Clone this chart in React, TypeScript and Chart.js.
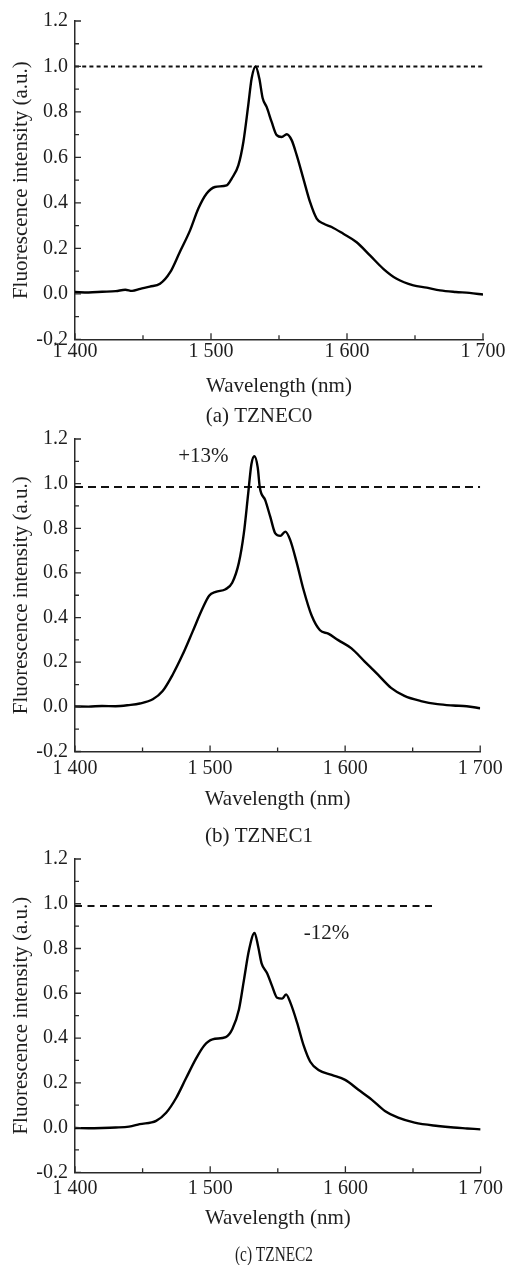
import React, { useEffect, useRef } from "react";
import { Chart, registerables } from "chart.js";

Chart.register(...registerables);

// ---------- data ----------
const X_TICKS = [1400, 1500, 1600, 1700];
const X_MINOR = [1450, 1550, 1650];
const Y_TICKS = [-0.2, 0, 0.2, 0.4, 0.6, 0.8, 1.0, 1.2];
const Y_MINOR = [-0.1, 0.1, 0.3, 0.5, 0.7, 0.9, 1.1];

const X_TITLE = "Wavelength (nm)";
const Y_TITLE = "Fluorescence intensity (a.u.)";

const CAPTIONS = ["(a) TZNEC0", "(b) TZNEC1", "(c) TZNEC2"];

const WL_A = [1400, 1410, 1420, 1430, 1437, 1442, 1448, 1455, 1462.5, 1470, 1477, 1484.6, 1490.7, 1496.8, 1502.9, 1511.5, 1515.2, 1520.1, 1523.8, 1527.4, 1529.9, 1532.8, 1535.5, 1538, 1540.9, 1544.6, 1548.3, 1552, 1555.7, 1559.3, 1563, 1567.9, 1572.8, 1577.7, 1582.6, 1588.7, 1597.3, 1607.1, 1616.9, 1626.7, 1636.5, 1648.8, 1658.6, 1668.4, 1680, 1690, 1700];
const INT_A = [0.008, 0.006, 0.009, 0.012, 0.018, 0.013, 0.022, 0.032, 0.044, 0.095, 0.183, 0.279, 0.375, 0.441, 0.47, 0.477, 0.507, 0.565, 0.668, 0.83, 0.948, 1.0, 0.948, 0.86, 0.822, 0.756, 0.698, 0.69, 0.702, 0.676, 0.61, 0.507, 0.404, 0.331, 0.309, 0.294, 0.264, 0.227, 0.169, 0.11, 0.066, 0.037, 0.027, 0.015, 0.008, 0.004, -0.003];

const WL_B = [1400, 1410, 1420, 1430, 1440, 1448, 1457.6, 1464.9, 1472.3, 1479.6, 1487, 1494.3, 1499.3, 1504.2, 1511.5, 1516.4, 1521.3, 1525, 1528.2, 1530.6, 1532.8, 1535.3, 1536.8, 1540.9, 1544.6, 1548.3, 1552, 1555.7, 1559.3, 1564.2, 1569.1, 1575.2, 1581.4, 1587.5, 1594.9, 1604.7, 1614.5, 1624.3, 1634, 1643.9, 1656.1, 1668.4, 1680, 1690, 1700];
const INT_B = [0.002, 0.001, 0.004, 0.003, 0.008, 0.015, 0.034, 0.071, 0.144, 0.233, 0.336, 0.439, 0.498, 0.515, 0.527, 0.556, 0.645, 0.777, 0.954, 1.087, 1.123, 1.072, 0.984, 0.925, 0.851, 0.777, 0.766, 0.785, 0.748, 0.645, 0.527, 0.409, 0.343, 0.328, 0.299, 0.262, 0.203, 0.144, 0.085, 0.049, 0.026, 0.012, 0.006, 0.003, -0.006];

const WL_C = [1400, 1410, 1420, 1430, 1440, 1447.8, 1460, 1467.4, 1474.8, 1482.1, 1489.5, 1495.6, 1501.7, 1511.5, 1516.4, 1521.3, 1525, 1528.7, 1532.8, 1535.5, 1538, 1542.1, 1545.8, 1549.5, 1553.2, 1556.1, 1559.3, 1564.2, 1569.1, 1574, 1580.1, 1589.9, 1599.8, 1609.6, 1619.4, 1629.2, 1639, 1651.2, 1668.4, 1680, 1690, 1700];
const INT_C = [-0.002, -0.003, -0.002, 0.0, 0.004, 0.015, 0.03, 0.066, 0.132, 0.22, 0.308, 0.367, 0.394, 0.404, 0.44, 0.529, 0.661, 0.793, 0.87, 0.808, 0.734, 0.69, 0.632, 0.58, 0.576, 0.595, 0.558, 0.47, 0.367, 0.294, 0.257, 0.235, 0.213, 0.169, 0.125, 0.074, 0.044, 0.022, 0.007, 0.0, -0.004, -0.008];

// reference (dashed) lines
const REF_Y = [1.0, 0.985, 0.99];
const REF_X_START = [1400, 1400, 1400];
const REF_X_END = [1700, 1700, 1666];

// annotations
const NOTE_TEXT = ["", "+13%", "-12%"];
const NOTE_X = [0, 1495, 1586];
const NOTE_Y = [0, 1.12, 0.866];

// ---------- layout / style ----------
const FONT_FAMILY = "'Liberation Serif', 'Times New Roman', serif";
const TEXT_COLOR = "#1e1e1e";
const AXIS_COLOR = "#2a2a2a";

const PANELS = [
  { wl: WL_A, val: INT_A, top: 0, height: 420, canvasH: 440, areaTop: 21, areaBottom: 339.3, xPad: 0.8, xTitlePad: 21.4, dash: [4, 3.2], dashW: 2, capY: 416, capX: 259, capW: 0 },
  { wl: WL_B, val: INT_B, top: 420, height: 420, canvasH: 440, areaTop: 14.3, areaBottom: 331.5, xPad: 5.3, xTitlePad: 28.4, dash: [8, 5], dashW: 1.9, capY: 416, capX: 259, capW: 0 },
  { wl: WL_C, val: INT_C, top: 840, height: 425, canvasH: 425, areaTop: 14.3, areaBottom: 332.3, xPad: 4.9, xTitlePad: 33.9, dash: [7, 5.5], dashW: 1.9, capY: 415, capX: 274, capW: 78 },
];

const fmtX = (v: number) => String(v).replace(/^(\d)(\d{3})$/, "$1 $2");
const fmtY = (v: number) => Number(v).toFixed(1);

function makeDecor(idx: number) {
  return {
    id: "decor" + idx,
    afterDraw(chart: any) {
      const ctx = chart.ctx;
      const xs = chart.scales.x;
      const ys = chart.scales.y;
      const { left, bottom } = chart.chartArea;
      ctx.save();
      ctx.strokeStyle = AXIS_COLOR;
      ctx.lineWidth = 1.3;
      ctx.beginPath();
      Y_TICKS.forEach((v) => {
        const y = ys.getPixelForValue(v);
        ctx.moveTo(left, y);
        ctx.lineTo(left + 6, y);
      });
      Y_MINOR.forEach((v) => {
        const y = ys.getPixelForValue(v);
        ctx.moveTo(left, y);
        ctx.lineTo(left + 4, y);
      });
      X_TICKS.forEach((v) => {
        const x = xs.getPixelForValue(v);
        ctx.moveTo(x, bottom);
        ctx.lineTo(x, bottom - 6);
      });
      X_MINOR.forEach((v) => {
        const x = xs.getPixelForValue(v);
        ctx.moveTo(x, bottom);
        ctx.lineTo(x, bottom - 4);
      });
      ctx.stroke();

      ctx.fillStyle = TEXT_COLOR;
      ctx.textAlign = "center";
      ctx.textBaseline = "middle";
      if (NOTE_TEXT[idx]) {
        ctx.font = `21px ${FONT_FAMILY}`;
        ctx.fillText(NOTE_TEXT[idx], xs.getPixelForValue(NOTE_X[idx]), ys.getPixelForValue(NOTE_Y[idx]));
      }
      const p = PANELS[idx];
      ctx.font = `21px ${FONT_FAMILY}`;
      if (p.capW) ctx.fillText(CAPTIONS[idx], p.capX, p.capY, p.capW);
      else ctx.fillText(CAPTIONS[idx], p.capX, p.capY);
      ctx.restore();
    },
  };
}

function Panel({ idx }: { idx: number }) {
  const ref = useRef<HTMLCanvasElement | null>(null);
  const p = PANELS[idx];
  useEffect(() => {
    if (!ref.current) return;
    const tickFont = { family: FONT_FAMILY, size: 20, lineHeight: 1.2 };
    const titleFont = { family: FONT_FAMILY, size: 21, lineHeight: 1.2 };
    const chart = new Chart(ref.current, {
      type: "line",
      data: {
        datasets: [
          {
            data: p.wl.map((x, i) => ({ x, y: p.val[i] })),
            borderColor: "#000",
            borderWidth: 2.4,
            pointRadius: 0,
            cubicInterpolationMode: "monotone",
            fill: false,
          },
          {
            data: [
              { x: REF_X_START[idx], y: REF_Y[idx] },
              { x: REF_X_END[idx], y: REF_Y[idx] },
            ],
            borderColor: "#111",
            borderWidth: p.dashW,
            borderDash: p.dash,
            pointRadius: 0,
            fill: false,
          },
        ],
      },
      options: {
        animation: false,
        responsive: false,
        events: [],
        layout: { padding: { top: p.areaTop, right: 25, left: 0, bottom: p.canvasH - p.height } },
        plugins: {
          legend: { display: false },
          tooltip: { enabled: false },
          title: { display: false },
        },
        scales: {
          x: {
            type: "linear",
            min: 1400,
            max: 1700,
            afterBuildTicks: (s: any) => {
              s.ticks = X_TICKS.map((v) => ({ value: v }));
            },
            ticks: {
              callback: (v: any) => fmtX(v),
              font: tickFont,
              color: TEXT_COLOR,
              padding: p.xPad,
              maxRotation: 0,
              autoSkip: false,
            },
            grid: { display: false, drawTicks: false },
            border: { display: true, color: AXIS_COLOR, width: 1.5 },
            title: {
              display: true,
              text: X_TITLE,
              font: titleFont,
              color: TEXT_COLOR,
              padding: { top: 0, bottom: p.xTitlePad },
            },
            afterFit: (s: any) => {
              s.height = p.height - p.areaBottom;
            },
          },
          y: {
            type: "linear",
            min: -0.2,
            max: 1.2,
            afterBuildTicks: (s: any) => {
              s.ticks = Y_TICKS.map((v) => ({ value: v }));
            },
            ticks: {
              callback: (v: any) => fmtY(v),
              font: tickFont,
              color: TEXT_COLOR,
              padding: 7,
              autoSkip: false,
            },
            grid: { display: false, drawTicks: false },
            border: { display: true, color: AXIS_COLOR, width: 1.5 },
            title: {
              display: true,
              text: Y_TITLE,
              font: titleFont,
              color: TEXT_COLOR,
              padding: { top: 9, bottom: 0 },
            },
            afterFit: (s: any) => {
              s.width = 75;
            },
          },
        },
      } as any,
      plugins: [makeDecor(idx)],
    });
    return () => chart.destroy();
  }, [idx]);
  return (
    <canvas
      ref={ref}
      width={508}
      height={p.canvasH}
      style={{ position: "absolute", left: 0, top: p.top, width: 508, height: p.canvasH }}
    />
  );
}

export default function App() {
  return (
    <div style={{ position: "absolute", left: 0, top: 0, width: 508, height: 1265, background: "#fff" }}>
      <Panel idx={0} />
      <Panel idx={1} />
      <Panel idx={2} />
    </div>
  );
}
